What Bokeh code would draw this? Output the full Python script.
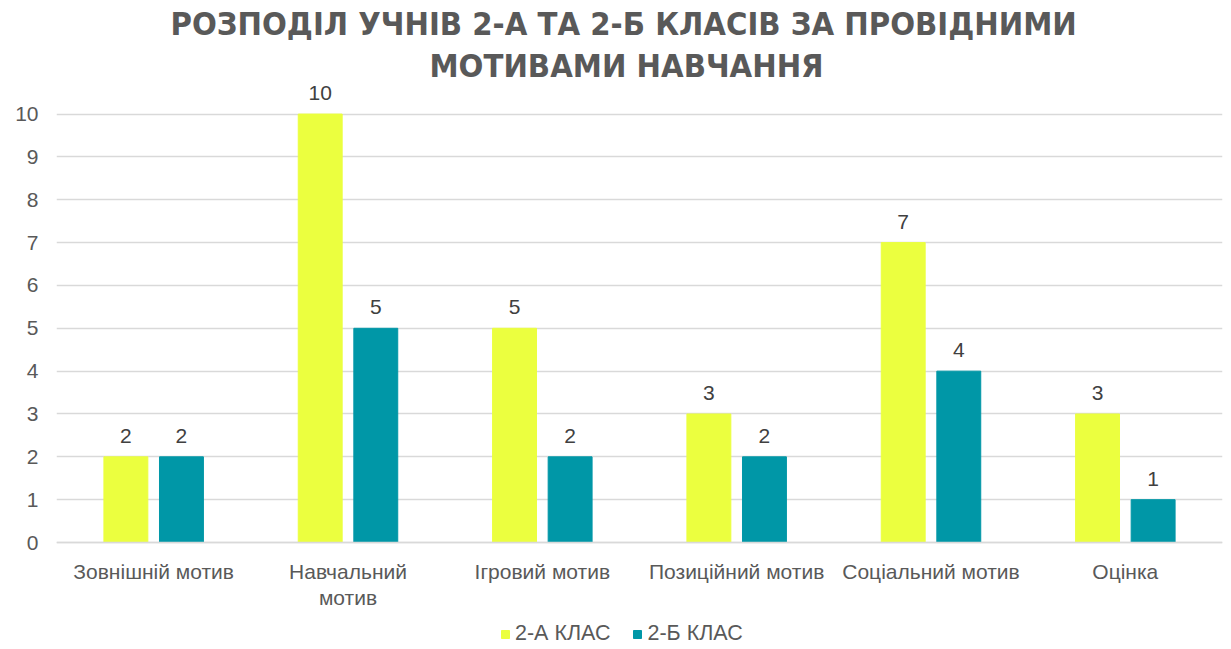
from bokeh.plotting import figure
from bokeh.models import (Range1d, FixedTicker, ColumnDataSource, LabelSet,
                          Legend, LegendItem, Title, LinearAxis)
from bokeh.core.properties import value
from bokeh.embed import file_html
from bokeh.resources import INLINE

categories = ["Зовнішній мотив", "Навчальний мотив", "Ігровий мотив",
              "Позиційний мотив", "Соціальний мотив", "Оцінка"]
tick_labels_line1 = ["Зовнішній мотив", "Навчальний", "Ігровий мотив",
                     "Позиційний мотив", "Соціальний мотив", "Оцінка"]
tick_labels_line2 = ["", "мотив", "", "", "", ""]
series_a = [2, 10, 5, 3, 7, 3]
series_b = [2, 5, 2, 2, 4, 1]
series_names = ["2-А КЛАС", "2-Б КЛАС"]
colors = ["#EBFF3F", "#0097A7"]
title_lines = ["РОЗПОДІЛ УЧНІВ 2-А ТА 2-Б КЛАСІВ ЗА ПРОВІДНИМИ",
               "МОТИВАМИ НАВЧАННЯ"]
y_ticks = list(range(0, 11))

FONT = "Liberation Sans"
TFONT = "DejaVu Sans Condensed"
GREY = "#595959"
FS = "21px"

n = len(categories)
centers = [i + 0.5 for i in range(n)]
off = 0.143
bw = 0.226
xa = [c - off for c in centers]
xb = [c + off for c in centers]

src_a = ColumnDataSource(dict(x=xa, top=series_a, lbl=[str(v) for v in series_a]))
src_b = ColumnDataSource(dict(x=xb, top=series_b, lbl=[str(v) for v in series_b]))

# frame extends below 0 so the category labels and legend sit inside it
p = figure(width=1231, height=649, x_range=Range1d(0, n), y_range=Range1d(-2.45, 10.69),
           output_backend="svg", toolbar_location=None, title=None,
           min_border_left=56, min_border_right=9, min_border_top=78,
           min_border_bottom=2)

title_offsets = [114, 373]
title_standoffs = [4, 0]
for line, o, s in reversed(list(zip(title_lines, title_offsets, title_standoffs))):
    t = Title(text=line, align="left", text_font=TFONT, text_font_size="32.5px",
              text_font_style="bold", text_color=GREY, offset=o, standoff=s)
    p.add_layout(t, "above")

ra = p.vbar(x="x", top="top", width=bw, source=src_a, color=colors[0])
rb = p.vbar(x="x", top="top", width=bw, source=src_b, color=colors[1])

for src in (src_a, src_b):
    p.add_layout(LabelSet(x="x", y="top", text="lbl", source=src, y_offset=14,
                          text_align="center", text_baseline="alphabetic",
                          text_font=value(FONT), text_font_size=value(FS),
                          text_color="#404040"))

p.outline_line_color = None
p.xgrid.grid_line_color = None
p.ygrid.ticker = FixedTicker(ticks=y_ticks)
p.ygrid.grid_line_color = "#D9D9D9"
p.ygrid.grid_line_width = 1.3

p.yaxis.ticker = FixedTicker(ticks=y_ticks)
p.yaxis.axis_line_color = None
p.yaxis.major_tick_line_color = None
p.yaxis.minor_tick_line_color = None
p.yaxis.major_tick_out = 0
p.yaxis.major_label_standoff = 18
p.yaxis.major_label_text_font = FONT
p.yaxis.major_label_text_font_size = FS
p.yaxis.major_label_text_color = GREY

def style_x(ax, standoff):
    ax.fixed_location = 0
    ax.major_tick_line_color = None
    ax.minor_tick_line_color = None
    ax.major_tick_out = 0
    ax.major_tick_in = 0
    ax.major_label_standoff = standoff
    ax.major_label_text_font = FONT
    ax.major_label_text_font_size = FS
    ax.major_label_text_color = GREY

p.xaxis.ticker = FixedTicker(ticks=centers)
p.xaxis.major_label_overrides = {c: t for c, t in zip(centers, tick_labels_line1)}
p.xaxis.axis_line_color = "#D9D9D9"
p.xaxis.axis_line_width = 1.3
style_x(p.xaxis[0], 17)

ax2 = LinearAxis(ticker=FixedTicker(ticks=centers),
                 major_label_overrides={c: t for c, t in zip(centers, tick_labels_line2)},
                 axis_line_color=None)
style_x(ax2, 43)
p.add_layout(ax2, "below")

legend = Legend(items=[LegendItem(label=series_names[0], renderers=[ra]),
                       LegendItem(label=series_names[1], renderers=[rb])],
                orientation="horizontal", location=(444, 1),
                label_text_font=FONT, label_text_font_size="21.5px",
                label_text_color=GREY, glyph_width=10, glyph_height=10,
                label_standoff=5, spacing=22, border_line_color=None,
                background_fill_alpha=0, padding=0, margin=0)
p.add_layout(legend, "center")

open("out.html", "w").write(file_html(p, INLINE))
